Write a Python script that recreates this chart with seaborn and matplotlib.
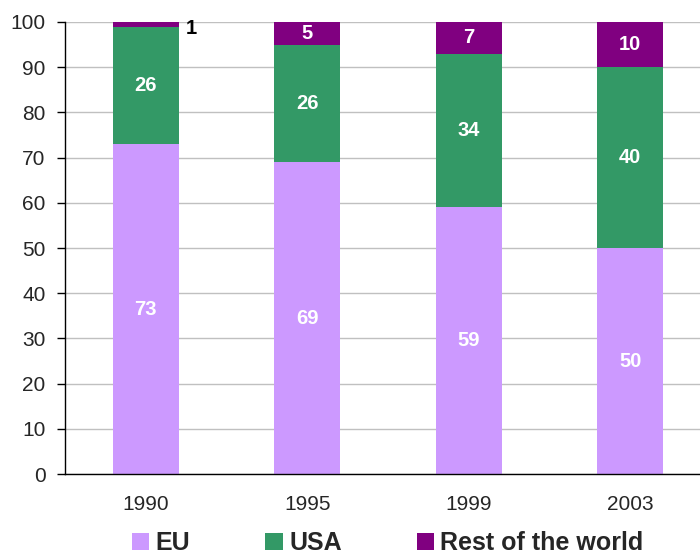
import matplotlib
matplotlib.use("Agg")
import matplotlib.pyplot as plt
import seaborn as sns
import numpy as np
import pandas as pd
from matplotlib.patches import Patch

years = ["1990", "1995", "1999", "2003"]
eu = [73, 69, 59, 50]
usa = [26, 26, 34, 40]
rest = [1, 5, 7, 10]
series_names = ["EU", "USA", "Rest of the world"]
colors = ["#CC99FF", "#339966", "#800080"]
yticks = [0, 10, 20, 30, 40, 50, 60, 70, 80, 90, 100]

sns.set_theme(style="white")
plt.rcParams['font.family'] = ['Liberation Sans', 'DejaVu Sans']

fig = plt.figure(figsize=(7, 5.58), dpi=100)
ax = fig.add_axes([0.0929, 0.1505, 0.923, 0.8101])

eu_a = np.array(eu)
usa_a = np.array(usa)
rest_a = np.array(rest)
cum_eu = eu_a
cum_usa = eu_a + usa_a
cum_rest = eu_a + usa_a + rest_a

df = pd.DataFrame({"year": years, "eu": cum_eu, "usa": cum_usa, "rest": cum_rest})
bw = 0.41
for col, c in zip(["rest", "usa", "eu"], [colors[2], colors[1], colors[0]]):
    sns.barplot(data=df, x="year", y=col, color=c, width=bw, ax=ax,
                saturation=1, linewidth=0, zorder=3)

ax.set_xlim(-0.5, 3.5)
ax.set_ylim(0, 100)
ax.set_yticks(yticks)
ax.set_yticklabels([str(t) for t in yticks], fontsize=15)
ax.set_xticks(range(len(years)))
ax.set_xticklabels(years, fontsize=15)
ax.set_xticks([-0.5, 0.5, 1.5, 2.5, 3.5], minor=True)
ax.tick_params(axis="x", which="major", length=0, pad=15)
ax.tick_params(axis="x", which="minor", length=6, width=1, color="black", direction="out")
ax.tick_params(axis="y", length=6, width=1, color="black", direction="out", left=True, pad=8)
ax.set_xlabel("")
ax.set_ylabel("")
ax.yaxis.grid(True, color="#C0C0C0", linewidth=1, zorder=0)
ax.set_axisbelow(True)
for s in ["top", "right"]:
    ax.spines[s].set_visible(False)
for s in ["left", "bottom"]:
    ax.spines[s].set_color("black")
    ax.spines[s].set_linewidth(1)
    ax.spines[s].set_zorder(5)

for i in range(len(years)):
    ax.text(i, eu[i] / 2, str(eu[i]), ha="center", va="center", color="white",
            fontsize=14.5, fontweight="bold", zorder=6)
    ax.text(i, eu[i] + usa[i] / 2, str(usa[i]), ha="center", va="center", color="white",
            fontsize=14.5, fontweight="bold", zorder=6)
    if rest[i] >= 3:
        ax.text(i, eu[i] + usa[i] + rest[i] / 2, str(rest[i]), ha="center", va="center",
                color="white", fontsize=14.5, fontweight="bold", zorder=6)
    else:
        ax.text(i + bw / 2 + 0.04, 98.5, str(rest[i]), ha="left", va="center",
                color="black", fontsize=14.5, fontweight="bold", zorder=6)

handles = [Patch(facecolor=c, edgecolor="none") for c in colors]
leg = fig.legend(handles, series_names, loc="center", bbox_to_anchor=(0.554, 0.026),
                 ncol=3, frameon=False, prop={"weight": "bold", "size": 18},
                 handlelength=0.7, handleheight=0.7, handletextpad=0.25,
                 columnspacing=3.0, borderaxespad=0, borderpad=0)

fig.savefig("out.png", dpi=100)
